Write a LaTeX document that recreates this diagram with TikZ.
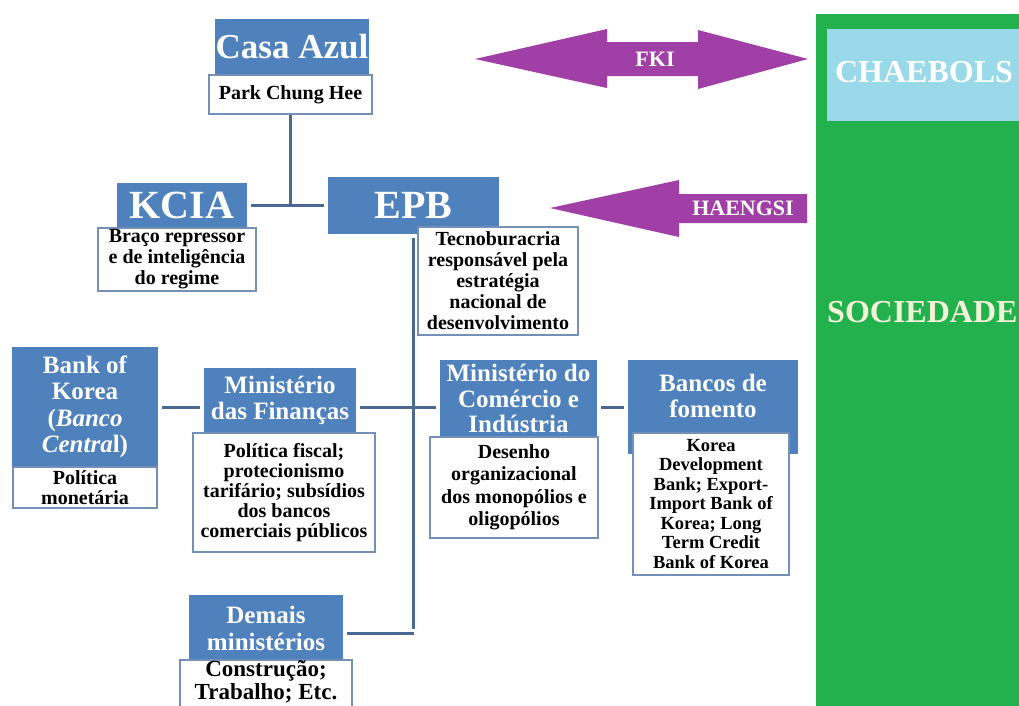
\documentclass[tikz,border=0pt]{standalone}
\usepackage{fontspec}
\setmainfont{Liberation Serif}
\definecolor{boxblue}{HTML}{4F81BD}
\definecolor{edgeblue}{HTML}{7490B6}
\definecolor{linkblue}{HTML}{4A6892}
\definecolor{arrowpurple}{HTML}{A03FA5}
\definecolor{socgreen}{HTML}{22B14C}
\definecolor{chaeblue}{HTML}{99D9EA}
\definecolor{socyellow}{HTML}{F2F2D8}
\tikzset{
	titlebox/.style={fill=boxblue,text=white,inner sep=0pt,align=center,font=\bfseries\fontsize{25}{26.5}\selectfont},
	descbox/.style={fill=white,draw=edgeblue,line width=2pt,inner sep=0pt,align=center,font=\bfseries\fontsize{20}{21}\selectfont},
	link/.style={draw=linkblue,line width=3pt},
	gap/.style={shorten >=4pt,shorten <=4pt},
}
\begin{document}
\begin{tikzpicture}[x=1pt,y=-1pt]
	\useasboundingbox (0,0) rectangle (1019,705);
	\clip (0,0) rectangle (1019,705);
	\fill[white] (0,0) rectangle (1019,705);
	\node[titlebox,minimum width=154pt,minimum height=56pt,font=\bfseries\fontsize{35}{36}\selectfont] (casa) at (292,47) {Casa Azul};
	\node[descbox,minimum width=163pt,minimum height=39pt] (park) at (290.5,94.5) {Park Chung Hee};
	\node[titlebox,minimum width=130pt,minimum height=45pt,font=\bfseries\fontsize{40}{40}\selectfont] (kcia) at (182,205.5) {KCIA};
	\node[descbox,minimum width=158pt,minimum height=63pt] (kciadesc) at (177,259.5) {Braço repressor\\e de inteligência\\do regime};
	\node[titlebox,minimum width=171pt,minimum height=57pt,font=\bfseries\fontsize{40}{40}\selectfont] (epb) at (413.5,205.5) {EPB};
	\node[descbox,minimum width=160pt,minimum height=108pt] (epbdesc) at (498,281) {Tecnoburacria\\responsável pela\\estratégia\\nacional de\\desenvolvimento};
	\node[titlebox,minimum width=146pt,minimum height=120pt] (bok) at (85,407) {Bank of\\Korea\\(\textit{Banco}\\\textit{Centra}l)};
	\node[descbox,minimum width=144pt,minimum height=41pt,font=\bfseries\fontsize{20}{20}\selectfont] (bokdesc) at (85,487.5) {Política\\monetária};
	\node[titlebox,minimum width=152pt,minimum height=65pt] (fin) at (280,400.5) {Ministério\\das Finanças};
	\node[descbox,minimum width=182pt,minimum height=119pt,font=\bfseries\fontsize{20}{20}\selectfont] (findesc) at (284,492.5) {Política fiscal;\\protecionismo\\tarifário; subsídios\\dos bancos\\comerciais públicos};
	\node[titlebox,minimum width=157pt,minimum height=77pt,font=\bfseries\fontsize{25}{25.5}\selectfont] (mci) at (518.5,398.5) {Ministério do\\Comércio e\\Indústria};
	\node[descbox,minimum width=168pt,minimum height=101pt,font=\bfseries\fontsize{20}{22.5}\selectfont] (mcidesc) at (514,487.5) {Desenho\\organizacional\\dos monopólios e\\oligopólios};
	\node[titlebox,minimum width=170pt,minimum height=94pt,text depth=22pt] (ban) at (713,407) {Bancos de\\fomento};
	\node[descbox,minimum width=156pt,minimum height=142pt,font=\bfseries\fontsize{18.5}{19.5}\selectfont] (bandesc) at (711,504) {Korea\\Development\\Bank; Export-\\Import Bank of\\Korea; Long\\Term Credit\\Bank of Korea};
	\node[titlebox,minimum width=154pt,minimum height=67pt] (dem) at (266,628.5) {Demais\\ministérios};
	\node[descbox,minimum width=172pt,minimum height=46pt,text depth=10pt,font=\bfseries\fontsize{23}{23.5}\selectfont] (demdesc) at (266,685) {Construção;\\Trabalho; Etc.};
	\draw[link] (park.south) -- (park.south |- kcia.east);
	\draw[link,gap] (kcia.east) -- (epb.west);
	\draw[link,shorten <=4pt] (epb.south) -- (epb.south |- dem.east) coordinate (epbfoot);
	\draw[link,shorten <=4pt] ([yshift=-5pt]dem.east) -- ([yshift=-5pt]epbfoot);
	\draw[link,gap] (bok.east) -- (fin.west |- bok.east);
	\draw[link,gap] (fin.east |- bok.east) -- (mci.west |- bok.east);
	\draw[link,gap] (mci.east |- bok.east) -- (ban.west |- bok.east);
	\fill[arrowpurple] (475,59) -- (607,29) -- (607,42) -- (698,42) -- (698,30) -- (808,59) -- (698,89) -- (698,76) -- (607,76) -- (607,88) -- cycle;
	\node[text=white,font=\bfseries\fontsize{22}{22}\selectfont] (fki) at (655,59) {FKI};
	\fill[arrowpurple] (550,208) -- (679,180) -- (679,194) -- (807,194) -- (807,223) -- (679,223) -- (679,237) -- cycle;
	\node[text=white,font=\bfseries\fontsize{22}{22}\selectfont] (haengsi) at (743,208) {HAENGSI};
	\fill[socgreen] (816,14) rectangle (1030,720);
	\fill[chaeblue] (827,29) rectangle (1030,121);
	\node[text=white,font=\bfseries\fontsize{32}{32}\selectfont] (chaebols) at (924,72) {CHAEBOLS};
	\node[text=socyellow,anchor=west,inner sep=0pt,font=\bfseries\fontsize{32}{32}\selectfont] (sociedade) at (827,312) {SOCIEDADE};
\end{tikzpicture}
\end{document}
